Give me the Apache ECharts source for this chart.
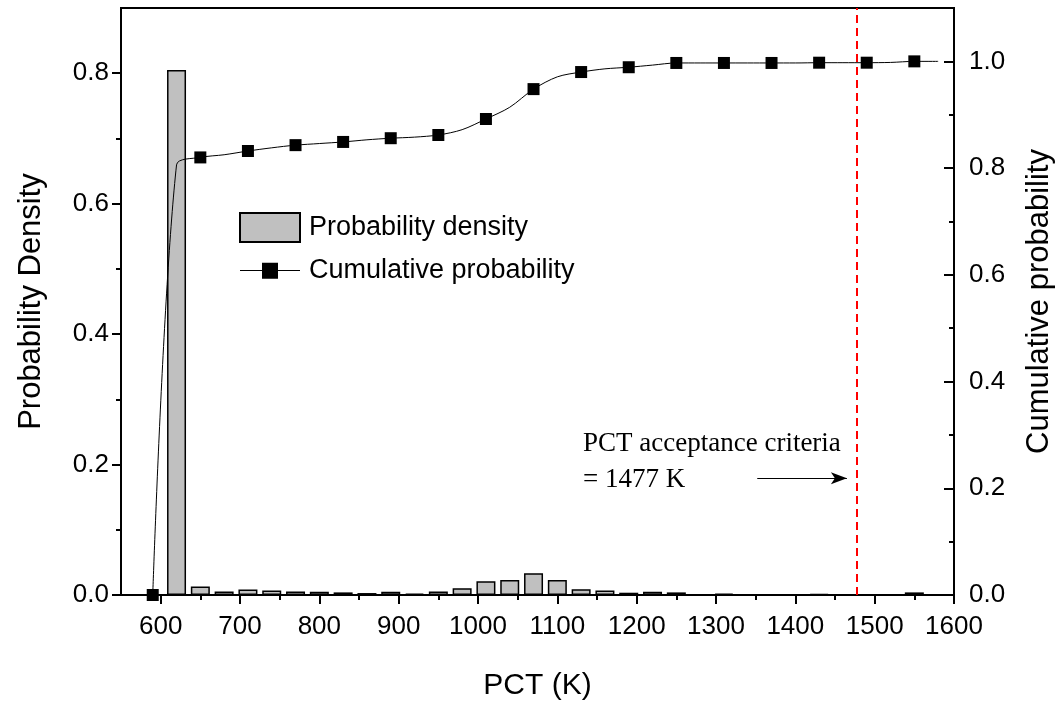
<!DOCTYPE html>
<html>
<head>
<meta charset="utf-8">
<title>PCT distribution</title>
<script src="https://cdn.jsdelivr.net/npm/echarts@6/dist/echarts.min.js"></script>
<style>
html, body { margin: 0; padding: 0; background: #fff; }
#main { width: 1063px; height: 706px; }
</style>
</head>
<body>
<div id="main"></div>
<script type="text/javascript">
// histogram bins (K) and probability density
var binCenters = [620, 650, 680, 710, 740, 770, 800, 830, 860, 890, 920, 950, 980, 1010, 1040, 1070,
                  1100, 1130, 1160, 1190, 1220, 1250, 1280, 1310, 1340, 1370, 1400, 1430, 1460, 1490, 1520, 1550];
var density = [0.805, 0.013, 0.0055, 0.0085, 0.007, 0.0055, 0.005, 0.004, 0.003, 0.005, 0.002, 0.0055, 0.0105, 0.021, 0.023, 0.0335,
               0.023, 0.009, 0.007, 0.0035, 0.005, 0.004, 0, 0.002, 0, 0, 0, 0.0015, 0, 0, 0, 0.004];

// cumulative probability curve
var cumX = [590, 620, 650, 680, 710, 740, 770, 800, 830, 860, 890, 920, 950, 980, 1010, 1040, 1070,
            1100, 1130, 1160, 1190, 1220, 1250, 1280, 1310, 1340, 1370, 1400, 1430, 1460, 1490, 1520, 1550, 1580];
var cumProb = [0, 0.806, 0.820, 0.825, 0.832, 0.838, 0.843, 0.846, 0.849, 0.853, 0.856, 0.858, 0.862, 0.872, 0.892, 0.914, 0.948,
               0.971, 0.980, 0.986, 0.989, 0.993, 0.997, 0.997, 0.997, 0.997, 0.997, 0.997, 0.9975, 0.9975, 0.9975, 0.998, 1.0, 1.0];
var markerX = [590, 650, 710, 770, 830, 890, 950, 1010, 1070, 1130, 1190, 1250, 1310, 1370, 1430, 1490, 1550];

// ticks
var xMajor = [600, 700, 800, 900, 1000, 1100, 1200, 1300, 1400, 1500, 1600];
var xMinor = [650, 750, 850, 950, 1050, 1150, 1250, 1350, 1450, 1550];
var leftMajor = [0, 0.2, 0.4, 0.6, 0.8];
var leftMinor = [0.1, 0.3, 0.5, 0.7];
var rightMajor = [0, 0.2, 0.4, 0.6, 0.8, 1.0];
var rightMinor = [0.1, 0.3, 0.5, 0.7, 0.9];

var pctLimit = 1477;
var arrowFrom = [1352, 0.179];
var arrowTo = [1465, 0.179];

var font = "'Liberation Sans', Arial, sans-serif";
var serif = "'Liberation Serif', 'Times New Roman', serif";

// legend icon: thin line with a square in the middle
var lineSquareIcon = 'path://M0,0h0.01v0.01h-0.01z M0,28.99h0.01v0.01h-0.01z M0,14h60v1.1h-60z M22,6.7h16v16h-16z';

var myChart = echarts.init(document.getElementById('main'));

var barData = binCenters.map(function (x, i) { return [x, density[i]]; });
var cumData = cumX.map(function (x, i) {
    var item = { value: [x, cumProb[i]] };
    if (markerX.indexOf(x) < 0) item.symbol = 'none';
    return item;
});

function fmt(v) { return (+v).toFixed(1); }

var option = {
    animation: false,
    backgroundColor: '#fff',
    textStyle: { fontFamily: font, color: '#000' },
    grid: {
        left: 121, right: 103, top: 8, bottom: 109,
        show: true, borderColor: '#000', borderWidth: 2, backgroundColor: 'transparent'
    },
    legend: {
        orient: 'vertical',
        left: 239, top: 212, padding: 0,
        itemWidth: 60, itemHeight: 29, itemGap: 13,
        textStyle: { fontSize: 27, color: '#000', fontFamily: font, padding: [0, 0, 0, 4] },
        data: [
            { name: 'Probability density', icon: 'rect' },
            { name: 'Cumulative probability', icon: lineSquareIcon, itemStyle: { color: '#000', borderWidth: 0 } }
        ]
    },
    xAxis: [
        {
            type: 'value', min: 550, max: 1600, position: 'bottom',
            name: 'PCT (K)', nameLocation: 'middle', nameGap: 76,
            nameTextStyle: { fontSize: 30, color: '#000', fontFamily: font },
            axisLine: { lineStyle: { color: '#000', width: 2 } },
            axisTick: { customValues: xMajor, length: 9, lineStyle: { color: '#000', width: 2 } },
            axisLabel: { customValues: xMajor, formatter: function (v) { return String(v); },
                         fontSize: 26, color: '#000', margin: 19, fontFamily: font },
            splitLine: { show: false }
        },
        {
            type: 'value', min: 550, max: 1600, position: 'bottom',
            axisLine: { show: false },
            axisTick: { customValues: xMinor, length: 5, lineStyle: { color: '#000', width: 2 } },
            axisLabel: { show: false },
            splitLine: { show: false }
        }
    ],
    yAxis: [
        {
            type: 'value', min: 0, max: 0.9, position: 'left',
            name: 'Probability Density', nameLocation: 'middle', nameGap: 74, nameRotate: 90,
            nameTextStyle: { fontSize: 31, color: '#000', fontFamily: font },
            axisLine: { show: true, lineStyle: { color: '#000', width: 2 } },
            axisTick: { show: true, customValues: leftMajor, length: 9, lineStyle: { color: '#000', width: 2 } },
            axisLabel: { customValues: leftMajor, formatter: fmt, fontSize: 26, color: '#000', margin: 12, fontFamily: font },
            splitLine: { show: false }
        },
        {
            type: 'value', min: 0, max: 0.9, position: 'left',
            axisLine: { show: false },
            axisTick: { show: true, customValues: leftMinor, length: 5, lineStyle: { color: '#000', width: 2 } },
            axisLabel: { show: false },
            splitLine: { show: false }
        },
        {
            type: 'value', min: 0, max: 1.1, position: 'right',
            name: 'Cumulative probability', nameLocation: 'middle', nameGap: 70, nameRotate: 90,
            nameTextStyle: { fontSize: 31, color: '#000', fontFamily: font },
            axisLine: { show: true, lineStyle: { color: '#000', width: 2 } },
            axisTick: { show: true, inside: true, customValues: rightMajor, length: 10, lineStyle: { color: '#000', width: 2 } },
            axisLabel: { customValues: rightMajor, formatter: fmt, fontSize: 26, color: '#000', margin: 15, fontFamily: font },
            splitLine: { show: false }
        },
        {
            type: 'value', min: 0, max: 1.1, position: 'right',
            axisLine: { show: false },
            axisTick: { show: true, inside: true, customValues: rightMinor, length: 5, lineStyle: { color: '#000', width: 2 } },
            axisLabel: { show: false },
            splitLine: { show: false }
        }
    ],
    series: [
        {
            name: 'Probability density',
            type: 'bar',
            xAxisIndex: 0, yAxisIndex: 0,
            barWidth: 19,
            itemStyle: { color: '#c0c0c0', borderColor: '#000', borderWidth: 1.5 },
            data: barData,
            markLine: {
                silent: true,
                animation: false,
                label: { show: false },
                data: [
                    [
                        { xAxis: pctLimit, yAxis: 0, symbol: 'none', lineStyle: { color: '#ff0000', width: 2, type: [8, 5] } },
                        { xAxis: pctLimit, yAxis: 0.9, symbol: 'none' }
                    ],
                    [
                        { coord: arrowFrom, symbol: 'none', lineStyle: { color: '#000', width: 1.2, type: 'solid' } },
                        { coord: arrowTo, symbol: 'arrow', symbolSize: [9, 16] }
                    ]
                ]
            },
            z: 2
        },
        {
            name: 'Cumulative probability',
            type: 'line',
            xAxisIndex: 0, yAxisIndex: 2,
            symbol: 'rect',
            symbolSize: 12,
            smooth: 0.3,
            lineStyle: { color: '#000', width: 1 },
            itemStyle: { color: '#000' },
            data: cumData,
            z: 3
        }
    ],
    graphic: [
        { type: 'text', left: 583, top: 430, style: { text: 'PCT acceptance criteria', font: '27px ' + serif, fill: '#000' } },
        { type: 'text', left: 583, top: 466, style: { text: '= 1477 K', font: '27px ' + serif, fill: '#000' } }
    ]
};

myChart.setOption(option);
</script>
</body>
</html>
